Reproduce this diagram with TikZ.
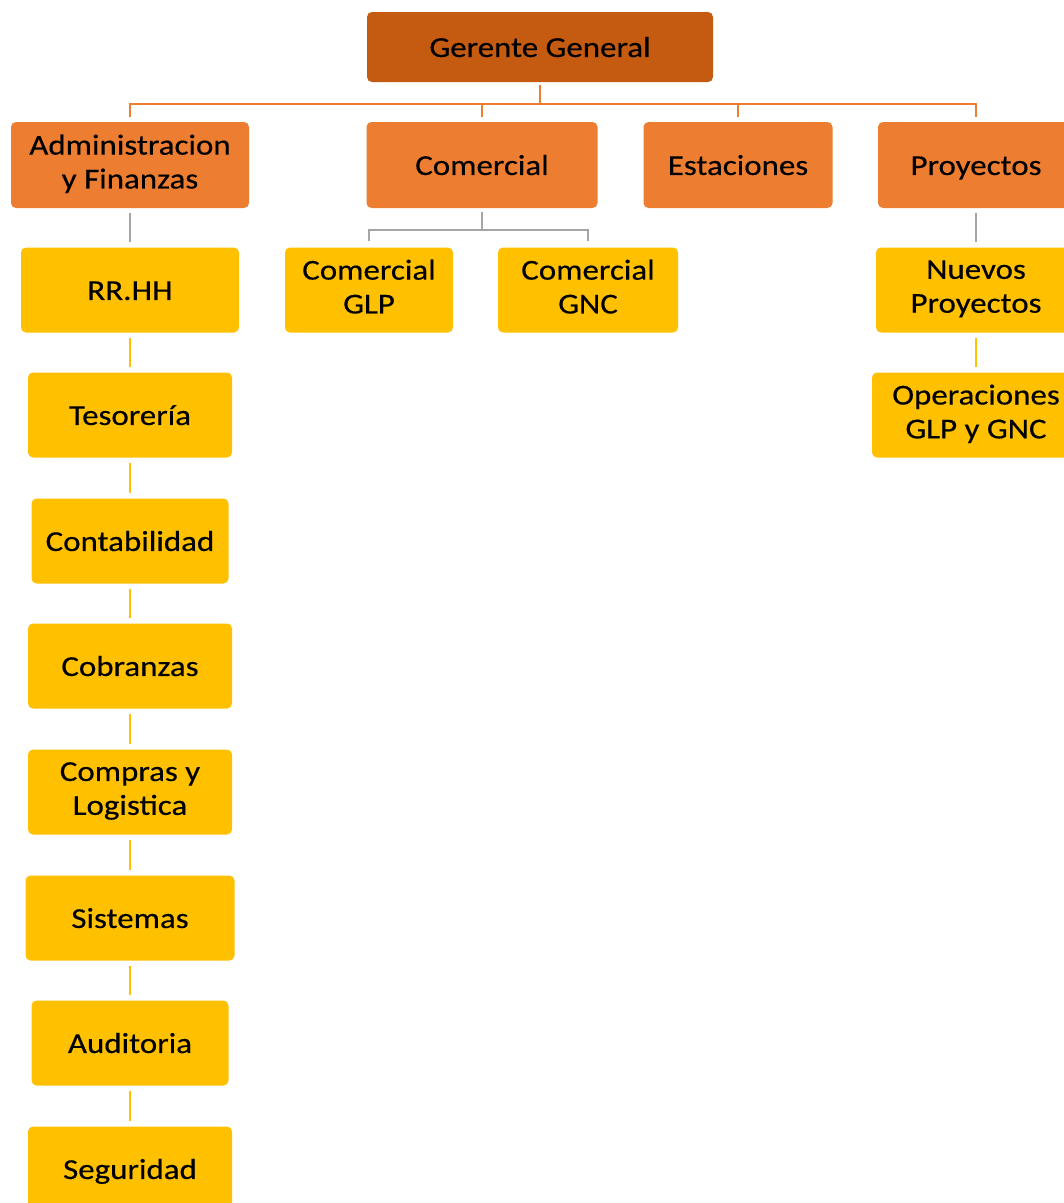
\documentclass[tikz,border=0pt]{standalone}
\usepackage{fontspec}
\setmainfont[FakeStretch=1.14, FakeBold=0.4]{Carlito}
\usepackage{tikz}
\usetikzlibrary{positioning}

\definecolor{gerente}{HTML}{C55A11}
\definecolor{area}{HTML}{ED7D31}
\definecolor{unidad}{HTML}{FFC000}
\definecolor{gris}{HTML}{A5A5A5}

\newcommand{\puntal}{\rule[-7pt]{0pt}{34pt}}

\begin{document}
\begin{tikzpicture}[
	caja/.style={rectangle, rounded corners=5bp, inner sep=0pt, align=center,
		font=\fontsize{29}{34}\selectfont, text=black,
		execute at begin node=\puntal, execute at end node=\puntal},
	jefe/.style={caja, fill=gerente, minimum height=70bp},
	area/.style={caja, fill=area, minimum height=86bp},
	unidad/.style={caja, fill=unidad, minimum height=85bp},
	rama/.style={draw=area, line width=2bp},
	gancho/.style={draw=gris, line width=2bp},
	cadena/.style={draw=unidad, line width=2bp}]
	\useasboundingbox (0bp,0bp) rectangle (1064bp,-1203bp);
	\clip (0bp,0bp) rectangle (1064bp,-1203bp);

	\node (gg) at (540bp,-47bp) [jefe, minimum width=346bp] {Gerente General};

	\node (adm) at (130bp,-165bp)  [area, minimum width=238bp] {Administracion\\y Finanzas};
	\node (com) at (482bp,-165bp)  [area, minimum width=231bp] {Comercial};
	\node (est) at (738bp,-165bp)  [area, minimum width=189bp] {Estaciones};
	\node (pro) at (976bp,-165bp)  [area, minimum width=196bp] {Proyectos};

	\node (rrhh) at (130bp,-290bp)  [unidad, minimum width=218bp] {RR.HH};
	\node (tes)  at (130bp,-415bp)  [unidad, minimum width=204bp] {Tesorería};
	\node (cont) at (130bp,-541bp)  [unidad, minimum width=197bp] {Contabilidad};
	\node (cob)  at (130bp,-666bp)  [unidad, minimum width=204bp] {Cobranzas};
	\node (cyl)  at (130bp,-792bp)  [unidad, minimum width=204bp] {Compras y\\Logistica};
	\node (sis)  at (130bp,-918bp)  [unidad, minimum width=209bp] {Sistemas};
	\node (aud)  at (130bp,-1043bp) [unidad, minimum width=197bp] {Auditoria};
	\node (seg)  at (130bp,-1169bp) [unidad, minimum width=204bp] {Seguridad};

	\node (glp) at (369bp,-290bp) [unidad, minimum width=168bp] {Comercial\\GLP};
	\node (gnc) at (588bp,-290bp) [unidad, minimum width=180bp] {Comercial\\GNC};

	\node (nue) at (976bp,-290bp) [unidad, minimum width=200bp] {Nuevos\\Proyectos};
	\node (ope) at (976bp,-415bp) [unidad, minimum width=208bp] {Operaciones\\GLP y GNC};

	% gerente -> areas
	\foreach \a in {adm,com,est,pro}
		\draw [rama] ([yshift=-3bp]gg.south) -- ++(0,-19bp) -| ([yshift=5bp]\a.north);

	% areas -> primeras unidades
	\draw [gancho] ([yshift=-5bp]adm.south) -- ([yshift=5bp]rrhh.north);
	\draw [gancho] ([yshift=-4bp]com.south) -- ++(0,-18bp) -| ([yshift=6bp]glp.north);
	\draw [gancho] ([yshift=-4bp]com.south) -- ++(0,-18bp) -| ([yshift=6bp]gnc.north);
	\draw [gancho] ([yshift=-5bp]pro.south) -- ([yshift=5bp]nue.north);

	% cadenas de unidades
	\foreach \s/\t in {rrhh/tes,tes/cont,cont/cob,cob/cyl,cyl/sis,sis/aud,aud/seg,nue/ope}
		\draw [cadena] ([yshift=-5bp]\s.south) -- ([yshift=5bp]\t.north);
\end{tikzpicture}
\end{document}
